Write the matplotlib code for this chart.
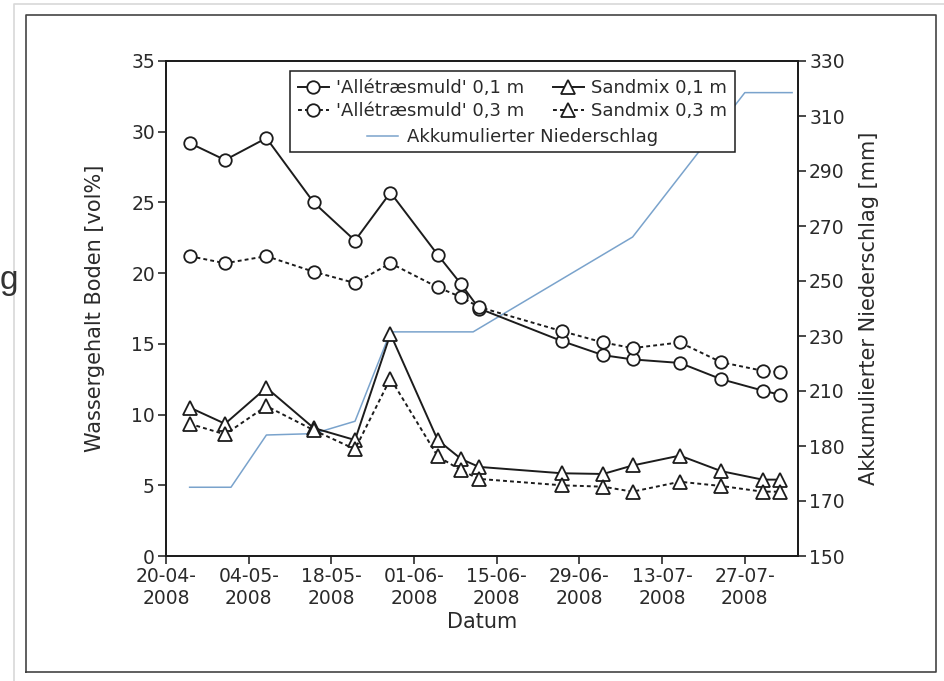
import datetime as dt
import matplotlib
matplotlib.use('Agg')
import matplotlib.pyplot as plt
from matplotlib.lines import Line2D

# sampling dates (same for all four soil series)
dates = ['2008-04-24', '2008-04-30', '2008-05-07', '2008-05-15', '2008-05-22',
         '2008-05-28', '2008-06-05', '2008-06-09', '2008-06-12', '2008-06-26',
         '2008-07-03', '2008-07-08', '2008-07-16', '2008-07-23', '2008-07-30',
         '2008-08-02']

allee_01 = [29.2, 28.0, 29.55, 25.0, 22.3, 25.7, 21.3, 19.2, 17.5, 15.2,
            14.2, 13.9, 13.65, 12.5, 11.7, 11.4]
allee_03 = [21.2, 20.7, 21.2, 20.1, 19.3, 20.7, 19.0, 18.3, 17.6, 15.9,
            15.1, 14.7, 15.1, 13.7, 13.1, 13.0]
sand_01 = [10.5, 9.35, 11.9, 9.05, 8.2, 15.7, 8.2, 6.85, 6.3, 5.85,
           5.8, 6.4, 7.1, 6.0, 5.4, 5.4]
sand_03 = [9.35, 8.6, 10.6, 8.9, 7.55, 12.55, 7.05, 6.05, 5.45, 5.0,
           4.9, 4.55, 5.25, 4.95, 4.55, 4.55]

# accumulated precipitation (right axis)
rain_dates = ['2008-04-24', '2008-05-01', '2008-05-07', '2008-05-15', '2008-05-22',
              '2008-05-28', '2008-06-11', '2008-07-08', '2008-07-27', '2008-08-04']
rain_mm = [175, 175, 194, 194.5, 199, 231.5, 231.5, 266, 318.5, 318.5]

right_ticks = [150, 170, 190, 210, 230, 250, 270, 290, 310, 330]
right_labels = ['150', '170', '180', '210', '230', '250', '270', '290', '310', '330']

to_dt = lambda s: dt.datetime.strptime(s, '%Y-%m-%d')
x = [to_dt(d) for d in dates]
xr = [to_dt(d) for d in rain_dates]
xticks = [dt.datetime(2008, 4, 20) + dt.timedelta(days=14 * i) for i in range(8)]

ink = '#1c1c1c'
txt = '#2a2a2a'
blue = '#7aa3cc'
dash = (0, (2, 1.6))

plt.rcParams['font.family'] = 'DejaVu Sans'
plt.rcParams['text.color'] = txt
plt.rcParams['axes.labelcolor'] = txt

fig = plt.figure(figsize=(9.44, 6.81), dpi=100)
ax = fig.add_axes([166 / 944, 1 - 556 / 681, 632 / 944, 495 / 681])
ax2 = ax.twinx()
ax.set_zorder(ax2.get_zorder() + 1)
ax.patch.set_visible(False)

ax2.plot(xr, rain_mm, color=blue, lw=1.1)

mk = dict(markerfacecolor='white', markeredgecolor=ink, markeredgewidth=1.3, color=ink, lw=1.4)
h1, = ax.plot(x, allee_01, marker='o', markersize=9, linestyle='-', **mk)
h2, = ax.plot(x, allee_03, marker='o', markersize=9, linestyle=dash, **mk)
h3, = ax.plot(x, sand_01, marker='^', markersize=9.5, linestyle='-', **mk)
h4, = ax.plot(x, sand_03, marker='^', markersize=9.5, linestyle=dash, **mk)

ax.set_xlim(dt.datetime(2008, 4, 20), dt.datetime(2008, 8, 5))
ax.set_ylim(0, 35)
ax.set_yticks(range(0, 36, 5))
ax.set_xticks(xticks)
ax.set_xticklabels([d.strftime('%d-%m-') + '\n' + d.strftime('%Y') for d in xticks])
ax2.set_ylim(150, 330)
ax2.set_yticks(right_ticks)
ax2.set_yticklabels(right_labels)

for a in (ax, ax2):
    for s in a.spines.values():
        s.set_color(ink)
        s.set_linewidth(1.3)
    a.tick_params(labelsize=13.5, length=6, width=1.2, pad=2, colors=txt)

ax.set_ylabel('Wassergehalt Boden [vol%]', fontsize=15, labelpad=19)
ax2.set_ylabel('Akkumulierter Niederschlag [mm]', fontsize=15, labelpad=10)
ax.set_xlabel('Datum', fontsize=15, labelpad=3)

# legend: two columns of soil series, precipitation centred in a third row
blank = Line2D([], [], color='none')
leg = ax.legend([h1, h2, blank, h3, h4, blank],
                ["'Allétræsmuld' 0,1 m", "'Allétræsmuld' 0,3 m", ' ',
                 'Sandmix 0,1 m', 'Sandmix 0,3 m', ' '],
                ncol=2, loc='upper left', bbox_to_anchor=(0.196, 0.98),
                borderaxespad=0, fontsize=13, handlelength=1.7,
                handletextpad=0.4, columnspacing=1.6, labelspacing=0.3,
                borderpad=0.45, fancybox=False, framealpha=1, edgecolor=ink)
leg.get_frame().set_linewidth(1.1)
ax.add_artist(leg)
rain_handle = Line2D([], [], color=blue, lw=1.1)
ax.legend([rain_handle], ['Akkumulierter Niederschlag'], loc='center',
          bbox_to_anchor=(0.548, 0.846), frameon=False, fontsize=13,
          handlelength=1.7, handletextpad=0.5, borderpad=0)

# scanned page frame
fx0, fx1 = 26 / 944, 936 / 944
fy0, fy1 = 1 - 672 / 681, 1 - 15 / 681
fig.add_artist(Line2D([fx0, fx1, fx1, fx0, fx0], [fy0, fy0, fy1, fy1, fy0],
                      color='#444444', lw=1.2, transform=fig.transFigure))
fig.add_artist(Line2D([14 / 944, 14 / 944, 1], [0, 1 - 4 / 681, 1 - 4 / 681],
                      color='#d8d8d8', lw=1.2, transform=fig.transFigure))
fig.text(0.0, 1 - 280 / 681, 'g', fontsize=24, family='Liberation Sans',
         color='#333333', ha='left', va='center')

fig.savefig('out.png', dpi=100)
